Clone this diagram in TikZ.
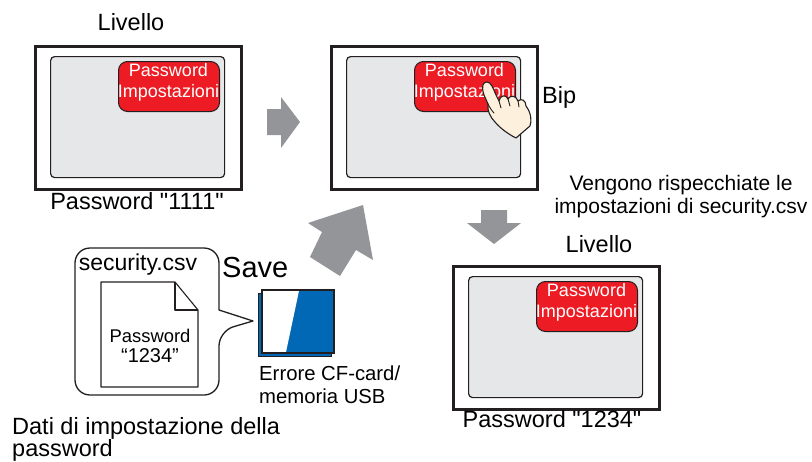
\documentclass[tikz,border=0pt]{standalone}
\usepackage{fontspec}
\setmainfont{Liberation Sans}[Ligatures=TeXOff]

\definecolor{framedark}{HTML}{231F20}
\definecolor{screengray}{HTML}{E6E7E8}
\definecolor{btnred}{HTML}{ED1C24}
\definecolor{arrowgray}{HTML}{939598}
\definecolor{cardblue}{HTML}{0068B5}
\definecolor{skin}{HTML}{FDF1DE}

\tikzset{
  panelframe/.style={draw=framedark, line width=3pt, fill=white, inner sep=0pt, anchor=north west},
  screenbox/.style={draw=framedark, line width=1.2pt, fill=screengray, rounded corners=4pt, inner sep=0pt, anchor=north west},
  redbtn/.style={draw=framedark, line width=1pt, fill=btnred, rounded corners=9pt, inner sep=0pt, anchor=north west},
  btntext/.style={text=white, font=\fontsize{18}{20}\selectfont, inner sep=0pt, anchor=base},
  lbl/.style={font=\fontsize{23.5}{26}\selectfont, inner sep=0pt, anchor=base},
  notetext/.style={font=\fontsize{21}{24}\selectfont, inner sep=0pt, anchor=base},
  blockarrow/.style={fill=arrowgray, draw=none},
  outline/.style={draw=framedark, line width=1.3pt, line join=round},
}

% one operator panel: frame, screen and the red password button
\newcommand{\hmipanel}[3]{%
  \begin{scope}[shift={(#2,#3)}]
    \node[panelframe, minimum width=206pt, minimum height=143pt] (#1frame) at (34,45) {};
    \node[screenbox, minimum width=174pt, minimum height=121pt] (#1screen) at (50,56) {};
    \node[redbtn, minimum width=101pt, minimum height=50pt] (#1btn) at (118,61) {};
    \node[btntext] (#1pw) at (168.5,76) {Password};
    \node[btntext] (#1set) at (168.5,97) {Impostazioni};
  \end{scope}}

\begin{document}
\begin{tikzpicture}[x=1pt,y=-1pt]
\useasboundingbox (0,0) rectangle (812,461);

% panels
\hmipanel{pa}{0}{0}
\hmipanel{pb}{296}{0}
\hmipanel{pc}{418}{220}

% panel captions
\node[lbl] (livelloA) at (131,30) {Livello};
\node[lbl] (pwdA) at (137,209) {Password "1111"};
\node[lbl] (livelloC) at (599,252) {Livello};
\node[lbl] (pwdC) at (552,427) {Password "1234"};
\node[lbl, anchor=base west] (bip) at (542,103) {Bip};
\node[notetext] (noteA) at (681,190) {Vengono rispecchiate le};
\node[notetext] (noteB) at (681,213) {impostazioni di security.csv};

% finger touching the button
\draw[outline, fill=skin, line width=1.1pt]
  (484,95) .. controls (481,86) and (483,82) .. (487,82)
  .. controls (491,82) and (493,88) .. (496,95)
  -- (499,101)
  .. controls (500,95) and (506,94) .. (508,99)
  .. controls (510,95) and (516,95) .. (518,101)
  .. controls (521,98) and (526,100) .. (526,106)
  .. controls (531,113) and (532,120) .. (530,126)
  -- (516,138)
  .. controls (508,134) and (500,128) .. (495,122)
  .. controls (490,117) and (487,110) .. (488,104)
  -- cycle;
\draw[framedark, line width=0.9pt, line cap=round] (499,101) -- (501,108);
\draw[framedark, line width=0.9pt, line cap=round] (508,99) -- (510,106);
\draw[framedark, line width=0.9pt, line cap=round] (518,101) -- (519,107);
\draw[framedark, line width=0.9pt, line cap=round] (488,104) .. controls (490,108) and (492,111) .. (494,113);

% block arrows
\fill[blockarrow] (267,109) -- (281,109) -- (281,97) -- (300,122) -- (281,148) -- (281,135) -- (267,135) -- cycle;
\fill[blockarrow] (481,210) -- (507,210) -- (507,223) -- (521,223) -- (494,244) -- (467,223) -- (481,223) -- cycle;
\fill[blockarrow] (308,223) -- (363,205) -- (373,260) -- (356,250) -- (340,276) -- (310,257) -- (322,232) -- cycle;

% speech bubble with the settings file
\draw[outline, fill=white] (219,310) [rounded corners=15pt] -- (219,248) -- (75,248) -- (75,395) -- (219,395) -- (219,331) [sharp corners] -- (253,321) -- cycle;
\node[lbl, font=\fontsize{23}{26}\selectfont] (csvname) at (138,270) {security.csv};
\draw[outline, fill=white, line width=1.1pt] (101,282) -- (175,282) -- (198,310) -- (198,387) -- (101,387) -- cycle;
\draw[outline, line width=1.1pt] (175,282) -- (175,310) -- (198,310);
\node[btntext, text=black, font=\fontsize{18.4}{20}\selectfont] (docpw) at (150,342) {Password};
\node[btntext, text=black, font=\fontsize{20}{22}\selectfont] (docval) at (150,362) {“1234”};

\node[lbl, font=\fontsize{29}{32}\selectfont, anchor=base west] (save) at (222,277) {Save};

% memory card
\draw[draw=framedark, line width=1pt, fill=cardblue] (258,293) rectangle (331,356);
\draw[draw=framedark, line width=1.5pt, fill=cardblue] (262,290) rectangle (334,353);
\fill[white] (262.8,290.8) -- (299,290.8) -- (286,352.2) -- (262.8,352.2) -- cycle;
\draw[draw=framedark, line width=1.5pt] (262,290) rectangle (334,353);
\node[notetext, font=\fontsize{20.3}{24}\selectfont, anchor=base west] (cardA) at (259,380) {Errore CF-card/};
\node[notetext, font=\fontsize{20.3}{24}\selectfont, anchor=base west] (cardB) at (259,403) {memoria USB};

% caption of the settings data
\node[lbl, anchor=base west] (dataA) at (12,434) {Dati di impostazione della};
\node[lbl, anchor=base west] (dataB) at (12,456) {password};
\end{tikzpicture}
\end{document}
